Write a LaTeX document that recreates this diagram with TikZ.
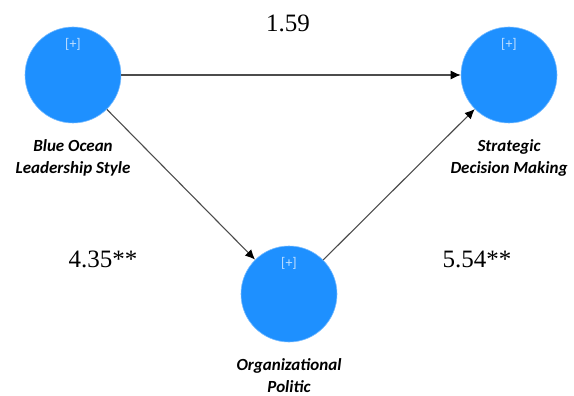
\documentclass[tikz,border=0pt]{standalone}
\usepackage{fontspec}
\setmainfont{Liberation Serif}
\newfontfamily\lvfont{Carlito}
\usepackage{xcolor}
\usepackage{tikz}
\usetikzlibrary{positioning,arrows.meta}

\definecolor{lvblue}{RGB}{30,144,255}
\definecolor{plusblue}{RGB}{195,225,255}

\begin{document}
\begin{tikzpicture}[x=1pt,y=-1pt,
				latent/.style={
					circle, fill=lvblue, draw=lvblue!60!white, line width=0.6pt,
					minimum size=96pt, inner sep=0pt,
				},
				lvname/.style={
					font=\lvfont\bfseries\itshape\fontsize{17}{22}\selectfont,
					align=center, inner sep=0pt,
				},
				plus/.style={
					font=\lvfont\fontsize{14}{14}\selectfont,
					text=plusblue, inner sep=0pt,
				},
				coef/.style={
					font=\fontsize{25}{25}\selectfont, inner sep=0pt,
				},
				path/.style={
					draw=black!70, line width=1.1pt,
					-{Latex[length=10pt,width=9pt,color=black]},
				}
				]
				\useasboundingbox (0,0) rectangle (574,396);
				\node[latent] (bols) at (73,75) {};
				\node[latent] (sdm) at (509,75) {};
				\node[latent] (op) at (289,294) {};
				
				\node[plus, below=11pt of bols.north] (bolsp) {[+]};
				\node[plus, below=11pt of sdm.north] (sdmp) {[+]};
				\node[plus, below=11pt of op.north] (opp) {[+]};
				
				\node[lvname, below=16pt of bols] (bolsn)
				{Blue Ocean\\Leadership Style};
				\node[lvname, below=16pt of sdm] (sdmn)
				{Strategic\\Decision Making};
				\node[lvname, below=16pt of op] (opn)
				{Organizational\\Politic};
				
				\draw[path] (bols) -- (sdm);
				\draw[path] (bols) -- (op);
				\draw[path] (op) -- (sdm);
				
				\node[coef] (b1) at (288,23) {1.59};
				\node[coef] (b2) at (103,259) {4.35**};
				\node[coef] (b3) at (477,259) {5.54**};
			\end{tikzpicture}
\end{document}
